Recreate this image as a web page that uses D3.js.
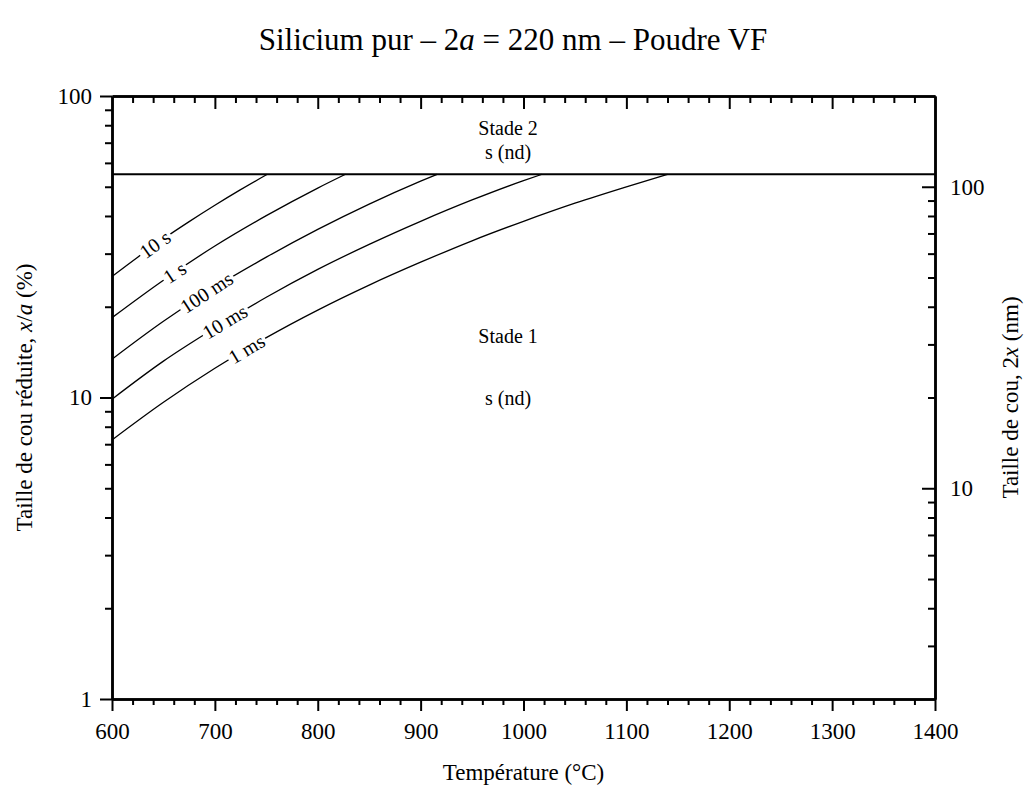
<!DOCTYPE html>
<html>
<head>
<meta charset="utf-8">
<script src="https://cdn.jsdelivr.net/npm/d3@7"></script>
<style>
  body { margin: 0; background: #fff; }
  svg text { font-family: "Liberation Serif", "DejaVu Serif", serif; fill: #000; }
  .axis path, .axis line { stroke: #000; }
</style>
</head>
<body>
<div id="chart"></div>
<script>
// values (temperature in °C, reduced neck size x/a in %)
const curveNames = ["10 s", "1 s", "100 ms", "10 ms", "1 ms"];
const temps10s = [600, 625, 650, 675, 700, 725, 751];
const neck10s = [25.2, 29.2, 33.6, 38.3, 43.4, 48.9, 55];
const temps1s = [600, 650, 700, 750, 800, 827];
const neck1s = [18.4, 24.5, 31.8, 40.1, 49.5, 55];
const temps100ms = [600, 650, 700, 750, 800, 850, 900, 916];
const neck100ms = [13.4, 17.9, 23.2, 29.2, 36.1, 43.8, 52.2, 55];
const temps10ms = [600, 650, 700, 750, 800, 850, 900, 950, 1000, 1018];
const neck10ms = [9.87, 13.2, 17.0, 21.5, 26.6, 32.2, 38.4, 45.2, 52.4, 55];
const temps1ms = [600, 650, 700, 750, 800, 850, 900, 950, 1000, 1050, 1100, 1140];
const neck1ms = [7.23, 9.64, 12.5, 15.8, 19.5, 23.6, 28.1, 33.1, 38.4, 44.1, 50.0, 55];
const labelTemps = [642, 661, 692, 710, 731];

const stage2Limit = 55;          // x/a (%) separating stade 1 / stade 2
const xMajor = [600, 700, 800, 900, 1000, 1100, 1200, 1300, 1400];
const yMajor = [1, 10, 100];
const rightMajor = [10, 100];

const width = 1026, height = 789;
const margin = { top: 96, right: 91, bottom: 90, left: 112 };
const innerW = width - margin.left - margin.right;
const innerH = height - margin.top - margin.bottom;

const svg = d3.select("#chart").append("svg")
    .attr("width", width)
    .attr("height", height);

const g = svg.append("g").attr("transform", `translate(${margin.left},${margin.top})`);

const x = d3.scaleLinear().domain([600, 1400]).range([0, innerW]);
const y = d3.scaleLog().domain([1, 100]).range([innerH, 0]);
const yRight = d3.scaleLog().domain([2, 200]).range([innerH, 0]);

const xMinor = d3.range(600, 1401, 20).filter(v => v % 100 !== 0);
const logMinor = (lo, hi) => {
    const out = [];
    for (let d = lo; d < hi; d *= 10) {
        for (let k = 2; k <= 9; k++) if (d * k < hi) out.push(d * k);
    }
    return out;
};
const yMinor = logMinor(1, 100);
const rightMinor = logMinor(1, 200).filter(v => v > 2 && v !== 10 && v !== 100);

const fmt = d => String(d);

// axes: major (labelled) + minor
function addAxis(axis, transform) {
    const a = g.append("g").attr("class", "axis").attr("transform", transform || null).call(axis);
    a.attr("font-family", null);
    a.select(".domain").attr("stroke-width", 2.5);
    a.selectAll(".tick line").attr("stroke-width", 2);
    a.selectAll(".tick text")
        .style("font-family", "'Liberation Serif', serif")
        .style("font-size", "23px");
    return a;
}

addAxis(d3.axisBottom(x).tickValues(xMinor).tickSize(6).tickSizeOuter(0).tickFormat(""), `translate(0,${innerH})`);
addAxis(d3.axisBottom(x).tickValues(xMajor).tickSize(12).tickSizeOuter(0).tickPadding(12).tickFormat(fmt), `translate(0,${innerH})`);

addAxis(d3.axisBottom(x).tickValues(xMinor).tickSize(7).tickSizeOuter(0).tickFormat(""));
addAxis(d3.axisBottom(x).tickValues(xMajor.slice(1, -1)).tickSize(13).tickSizeOuter(0).tickFormat(""));

addAxis(d3.axisLeft(y).tickValues(yMinor).tickSize(7).tickSizeOuter(0).tickFormat(""));
addAxis(d3.axisLeft(y).tickValues(yMajor).tickSize(12).tickSizeOuter(0).tickPadding(8).tickFormat(fmt));

addAxis(d3.axisRight(yRight).tickValues(rightMinor).tickSize(-7).tickSizeOuter(0).tickFormat(""), `translate(${innerW},0)`);
addAxis(d3.axisRight(yRight).tickValues(rightMajor).tickSize(-13).tickSizeOuter(0).tickPadding(15).tickFormat(fmt), `translate(${innerW},0)`);

// stage boundary
g.append("line")
    .attr("x1", 0).attr("x2", innerW)
    .attr("y1", y(stage2Limit)).attr("y2", y(stage2Limit))
    .attr("stroke", "#000").attr("stroke-width", 2);

// iso-time curves
const series = [
    { temps: temps10s, neck: neck10s },
    { temps: temps1s, neck: neck1s },
    { temps: temps100ms, neck: neck100ms },
    { temps: temps10ms, neck: neck10ms },
    { temps: temps1ms, neck: neck1ms }
];

const line = d3.line()
    .x(d => x(d[0]))
    .y(d => y(d[1]))
    .curve(d3.curveMonotoneX);

// log-linear interpolation along a series, used to sit labels on their curve
function neckAt(s, t) {
    const i = Math.max(1, Math.min(s.temps.length - 1, d3.bisectRight(s.temps, t)));
    const t0 = s.temps[i - 1], t1 = s.temps[i];
    const f = (t - t0) / (t1 - t0);
    return Math.exp(Math.log(s.neck[i - 1]) * (1 - f) + Math.log(s.neck[i]) * f);
}

series.forEach((s, i) => {
    g.append("path")
        .datum(d3.zip(s.temps, s.neck))
        .attr("fill", "none")
        .attr("stroke", "#000")
        .attr("stroke-width", 1.3)
        .attr("d", line);

    const t = labelTemps[i];
    const px = x(t), py = y(neckAt(s, t));
    const dx = x(t + 6) - x(t - 6);
    const dy = y(neckAt(s, t + 6)) - y(neckAt(s, t - 6));
    const angle = Math.atan2(dy, dx) * 180 / Math.PI;

    const lab = g.append("g")
        .attr("transform", `translate(${px},${py}) rotate(${angle})`);
    const bg = lab.append("rect").attr("fill", "#fff");
    const txt = lab.append("text")
        .attr("text-anchor", "middle")
        .attr("dy", "0.33em")
        .style("font-size", "20px")
        .text(curveNames[i]);
    const bb = txt.node().getBBox();
    bg.attr("x", bb.x - 2).attr("y", -7)
        .attr("width", bb.width + 4).attr("height", 14);
});

// stage annotations
const notes = [
    { t: 985, v: 78.3, text: "Stade 2" },
    { t: 985, v: 65.2, text: "s (nd)" },
    { t: 985, v: 16, text: "Stade 1" },
    { t: 985, v: 10, text: "s (nd)" }
];
g.selectAll(".note").data(notes).join("text")
    .attr("class", "note")
    .attr("x", d => x(d.t))
    .attr("y", d => y(d.v))
    .attr("dy", "0.35em")
    .attr("text-anchor", "middle")
    .style("font-size", "20px")
    .text(d => d.text);

// titles
const title = svg.append("text")
    .attr("x", width / 2).attr("y", 50)
    .attr("text-anchor", "middle")
    .style("font-size", "31px");
title.append("tspan").text("Silicium pur – 2");
title.append("tspan").style("font-style", "italic").text("a");
title.append("tspan").text(" = 220 nm – Poudre VF");

svg.append("text")
    .attr("x", margin.left + innerW / 2).attr("y", 780)
    .attr("text-anchor", "middle")
    .style("font-size", "23px")
    .text("Température (°C)");

const yTitle = svg.append("text")
    .attr("transform", `translate(32,${margin.top + innerH / 2}) rotate(-90)`)
    .attr("text-anchor", "middle")
    .style("font-size", "23px");
yTitle.append("tspan").text("Taille de cou réduite, ");
yTitle.append("tspan").style("font-style", "italic").text("x");
yTitle.append("tspan").text("/");
yTitle.append("tspan").style("font-style", "italic").text("a");
yTitle.append("tspan").text(" (%)");

const rTitle = svg.append("text")
    .attr("transform", `translate(1018,${margin.top + innerH / 2}) rotate(-90)`)
    .attr("text-anchor", "middle")
    .style("font-size", "23px");
rTitle.append("tspan").text("Taille de cou, 2");
rTitle.append("tspan").style("font-style", "italic").text("x");
rTitle.append("tspan").text(" (nm)");
</script>
</body>
</html>
